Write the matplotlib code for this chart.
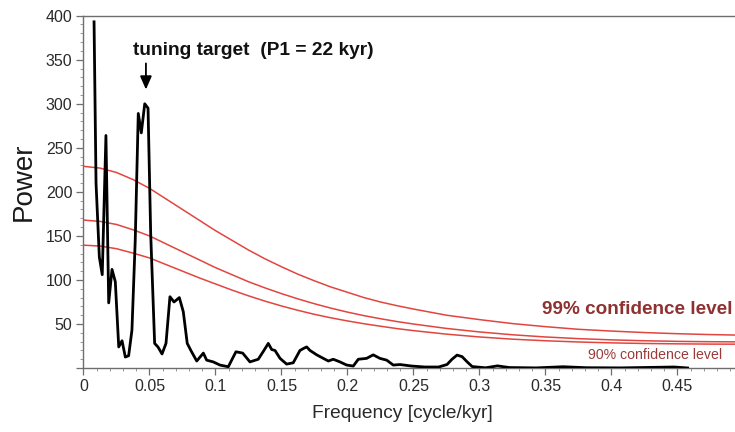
import matplotlib
matplotlib.use("Agg")
import matplotlib.pyplot as plt
from matplotlib.ticker import MultipleLocator, FuncFormatter

plt.rcParams['font.family'] = ['Liberation Sans', 'DejaVu Sans']

# Spectrum of the record (frequency in cycle/kyr, spectral power)
freq = [0.0080, 0.0095, 0.0120, 0.0142, 0.0170, 0.0191, 0.0216, 0.0241, 0.0267, 0.0292,
        0.0317, 0.0342, 0.0367, 0.0392, 0.0415, 0.0438, 0.0464, 0.0489, 0.0509, 0.0539,
        0.0564, 0.0595, 0.0625, 0.0655, 0.0686, 0.0726, 0.0756, 0.0786, 0.0817, 0.0858,
        0.0908, 0.0933, 0.0983, 0.1034, 0.1097, 0.1155, 0.1206, 0.1261, 0.1324, 0.1367,
        0.1400, 0.1426, 0.1451, 0.1489, 0.1539, 0.1589, 0.1640, 0.1670, 0.1691, 0.1716,
        0.1767, 0.1817, 0.1855, 0.1892, 0.1943, 0.1994, 0.2044, 0.2082, 0.2145, 0.2195,
        0.2246, 0.2297, 0.2347, 0.2398, 0.2486, 0.2588, 0.2690, 0.2754, 0.2792, 0.2830,
        0.2868, 0.2907, 0.2945, 0.3047, 0.3136, 0.3226, 0.3430, 0.3633, 0.3812, 0.4067,
        0.4475, 0.4577]
power = [393, 210, 126, 106, 264, 74, 112, 98, 24, 31,
         12.5, 14, 43, 145, 289, 267, 300, 295, 153, 28,
         24, 16, 28, 81, 75, 80, 64, 28, 19, 8,
         17, 9, 7, 3.4, 1.5, 18.5, 17, 7, 10, 20,
         28, 21, 20, 11, 4.5, 6, 20, 22.5, 24, 20,
         15, 11, 8, 10, 7, 3.4, 2.3, 10, 11, 15,
         11, 9, 3.4, 4, 2.3, 1.2, 1.2, 4, 10, 14.7,
         13, 7, 1.7, 0.3, 2.5, 0.6, 0.2, 1.5, 0.4, 0.2,
         1.2, 0.1]

# Red-noise confidence levels
conf_freq = [0.0, 0.0125, 0.025, 0.0375, 0.05, 0.0625, 0.075, 0.0875, 0.1, 0.1125,
             0.125, 0.1375, 0.15, 0.1625, 0.175, 0.1875, 0.2, 0.2125, 0.225, 0.2375,
             0.25, 0.275, 0.3, 0.325, 0.35, 0.375, 0.4, 0.425, 0.45, 0.475, 0.5]
conf99 = [229, 227, 222, 214, 204, 192, 180, 168, 156, 145,
          134, 124, 115, 106.5, 99, 92, 86, 80, 75, 70.8,
          67, 60, 55, 50.5, 47, 44, 42, 40.3, 39, 38, 37.3]
conf95 = [168, 166.5, 163, 157, 150, 141, 132, 123, 114, 106,
          98, 91, 84.5, 78.5, 73, 68, 63.5, 59.5, 56, 52.8,
          50, 45, 41, 37.8, 35.3, 33.4, 32, 31, 30.3, 29.9, 29.7]
conf90 = [139.5, 138.5, 135.5, 130.5, 125, 117.5, 110, 102.5, 95.5, 88.5,
          82, 76, 70.5, 65.5, 61, 57, 53.5, 50.3, 47.5, 44.8,
          42.5, 38.5, 35.3, 32.8, 31, 29.6, 28.6, 27.9, 27.5, 27.2, 27.1]

target_freq = 0.0473

fig = plt.figure(figsize=(7.35, 4.32), dpi=100)
ax = fig.add_axes([0.1136, 0.148, 0.8864, 0.8157])

line_red = '#e2453f'
for c in (conf99, conf95, conf90):
    ax.plot(conf_freq, c, color=line_red, lw=1.1, zorder=2)
ax.plot(freq, power, color='black', lw=2.0, zorder=3, solid_joinstyle='round')

ax.set_xlim(0, 0.4936)
ax.set_ylim(0, 400)

ax.xaxis.set_major_locator(MultipleLocator(0.05))
ax.xaxis.set_minor_locator(MultipleLocator(0.01))
ax.yaxis.set_major_locator(MultipleLocator(50))
ax.yaxis.set_minor_locator(MultipleLocator(10))
ax.xaxis.set_major_formatter(FuncFormatter(lambda v, p: '%g' % round(v, 3) if v < 0.46 else ''))
ax.yaxis.set_major_formatter(FuncFormatter(lambda v, p: '' if v == 0 else '%d' % v))

spine_col = '#6e6e6e'
for s in ('left', 'bottom', 'top'):
    ax.spines[s].set_color(spine_col)
    ax.spines[s].set_linewidth(1.0)
ax.spines['right'].set_visible(False)
ax.tick_params(which='major', direction='out', length=5, width=0.9, color=spine_col,
               labelsize=11.5, labelcolor='#2a2a2a', pad=3)
ax.tick_params(which='minor', direction='out', length=2.5, width=0.7, color='#9a9a9a')

ax.set_ylabel('Power', fontsize=20, color='#1a1a1a')
ax.yaxis.set_label_coords(-0.071, 0.53)
ax.set_xlabel('Frequency [cycle/kyr]', fontsize=13.8, color='#2a2a2a')
ax.xaxis.set_label_coords(0.49, -0.105)

ax.text(0.0375, 360, 'tuning target  (P1 = 22 kyr)', fontsize=13.8, fontweight='bold',
        ha='left', va='center', color='#111111')
ax.annotate('', xy=(target_freq, 313), xytext=(target_freq, 349),
            arrowprops=dict(arrowstyle='-|>,head_length=0.8,head_width=0.35',
                            color='black', lw=1.3))

ax.text(0.492, 66, '99% confidence level', fontsize=13.6, fontweight='bold',
        ha='right', va='center', color='#8f3131')
ax.text(0.4842, 14.8, '90% confidence level', fontsize=10.2,
        ha='right', va='center', color='#9c3a3a')

fig.savefig('out.png', dpi=100)
